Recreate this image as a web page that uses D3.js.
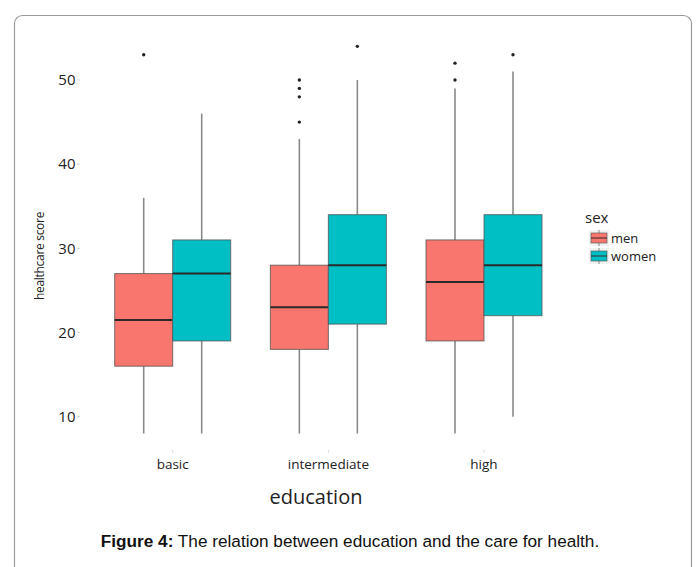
<!DOCTYPE html>
<html><head><meta charset="utf-8">
<script src="https://cdn.jsdelivr.net/npm/d3@7"></script>
<style>html,body{margin:0;padding:0;background:#fff;}</style>
</head><body>
<script>
const categories = ["basic", "intermediate", "high"];
const sexes = ["men", "women"];
const yTicks = [10, 20, 30, 40, 50];

const menLower   = [8, 8, 8];
const menQ1      = [16, 18, 19];
const menMedian  = [21.5, 23, 26];
const menQ3      = [27, 28, 31];
const menUpper   = [36, 43, 49];
const menOutliers = [[53], [45, 48, 49, 50], [50, 52]];

const womenLower   = [8, 8, 10];
const womenQ1      = [19, 21, 22];
const womenMedian  = [27, 28, 28];
const womenQ3      = [31, 34, 34];
const womenUpper   = [46, 50, 51];
const womenOutliers = [[], [54], [53]];

const colors = {men: "#F8766D", women: "#00BFC4"};

const W = 699, H = 567;
const svg = d3.select("body").append("svg").attr("width", W).attr("height", H);

// frame
svg.append("rect").attr("x", 14.5).attr("y", 15.5).attr("width", 677).attr("height", 620)
  .attr("rx", 8).attr("fill", "#fff").attr("stroke", "#9a9a9a").attr("stroke-width", 1.2);

const y = d3.scaleLinear().domain([10, 50]).range([416.7, 80]);
const x = d3.scalePoint().domain(categories).range([172.7, 484]);
const xs = d3.scaleBand().domain(sexes).range([-58, 58]);

const boxes = [];
categories.forEach((c, i) => {
  boxes.push({cat: c, sex: "men", lo: menLower[i], q1: menQ1[i], med: menMedian[i], q3: menQ3[i], hi: menUpper[i], out: menOutliers[i]});
  boxes.push({cat: c, sex: "women", lo: womenLower[i], q1: womenQ1[i], med: womenMedian[i], q3: womenQ3[i], hi: womenUpper[i], out: womenOutliers[i]});
});

const g = svg.append("g");
boxes.forEach(b => {
  const x0 = x(b.cat) + xs(b.sex);
  const cx = x0 + xs.bandwidth() / 2;
  const bg = g.append("g");
  bg.append("line").attr("x1", cx).attr("x2", cx).attr("y1", y(b.q3)).attr("y2", y(b.hi))
    .attr("stroke", "#8a8a8a").attr("stroke-width", 1.6);
  bg.append("line").attr("x1", cx).attr("x2", cx).attr("y1", y(b.q1)).attr("y2", y(b.lo))
    .attr("stroke", "#8a8a8a").attr("stroke-width", 1.6);
  bg.append("rect").attr("x", x0).attr("y", y(b.q3)).attr("width", xs.bandwidth())
    .attr("height", y(b.q1) - y(b.q3)).attr("fill", colors[b.sex])
    .attr("stroke", "#555").attr("stroke-opacity", 0.8).attr("stroke-width", 1);
  bg.append("line").attr("x1", x0).attr("x2", x0 + xs.bandwidth()).attr("y1", y(b.med)).attr("y2", y(b.med))
    .attr("stroke", "#2a2a2a").attr("stroke-width", 2);
  b.out.forEach(o => {
    bg.append("circle").attr("cx", cx).attr("cy", y(o)).attr("r", 1.7).attr("fill", "#222");
  });
});

// y axis labels
const ya = svg.append("g");
yTicks.forEach(t => {
  ya.append("text").attr("x", 75.5).attr("y", y(t)).attr("dy", "0.35em")
    .attr("text-anchor", "end").attr("font-family", "Open Sans").attr("font-size", 15)
    .attr("fill", "#222").text(t);
  ya.append("line").attr("x1", 77.5).attr("x2", 79.5).attr("y1", y(t)).attr("y2", y(t))
    .attr("stroke", "#bbb").attr("stroke-width", 1);
});
svg.append("text").attr("transform", `translate(44,${256})rotate(-90)`)
  .attr("text-anchor", "middle").attr("font-family", "Open Sans").attr("font-size", 12)
  .attr("fill", "#222").attr("letter-spacing", -0.3).text("healthcare score");

// x axis labels
categories.forEach(c => {
  svg.append("line").attr("x1", x(c)).attr("x2", x(c)).attr("y1", 450).attr("y2", 453)
    .attr("stroke", "#ddd").attr("stroke-width", 1);
  svg.append("text").attr("x", x(c)).attr("y", 469).attr("text-anchor", "middle")
    .attr("font-family", "Open Sans").attr("font-size", 13.5).attr("fill", "#222").text(c);
});
svg.append("text").attr("x", 316).attr("y", 504).attr("text-anchor", "middle")
  .attr("font-family", "Open Sans").attr("font-size", 20).attr("fill", "#222").text("education");

// legend
const lg = svg.append("g");
lg.append("text").attr("x", 585).attr("y", 223).attr("font-family", "Open Sans")
  .attr("font-size", 15).attr("fill", "#222").text("sex");
sexes.forEach((s, i) => {
  const ky = 231 + i * 18;
  lg.append("rect").attr("x", 589).attr("y", ky - 1).attr("width", 20).attr("height", 16).attr("fill", "#f2f2f2");
  lg.append("line").attr("x1", 599).attr("x2", 599).attr("y1", ky - 1).attr("y2", ky + 15)
    .attr("stroke", "#8a8a8a").attr("stroke-width", 1);
  lg.append("rect").attr("x", 591).attr("y", ky + 2).attr("width", 16).attr("height", 10)
    .attr("fill", colors[s]).attr("stroke", "#555").attr("stroke-opacity", 0.8).attr("stroke-width", 0.8);
  lg.append("line").attr("x1", 591).attr("x2", 607).attr("y1", ky + 7).attr("y2", ky + 7)
    .attr("stroke", "#2a2a2a").attr("stroke-width", 1);
  lg.append("text").attr("x", 611).attr("y", ky + 7).attr("dy", "0.35em")
    .attr("font-family", "Open Sans").attr("font-size", 13).attr("fill", "#222").text(s);
});

// caption
const cap = svg.append("text").attr("x", 350).attr("y", 547).attr("text-anchor", "middle")
  .attr("font-family", "Liberation Sans, Arial").attr("font-size", 17.2).attr("fill", "#111");
cap.append("tspan").attr("font-weight", "bold").text("Figure 4:");
cap.append("tspan").text(" The relation between education and the care for health.");
</script>
</body></html>
